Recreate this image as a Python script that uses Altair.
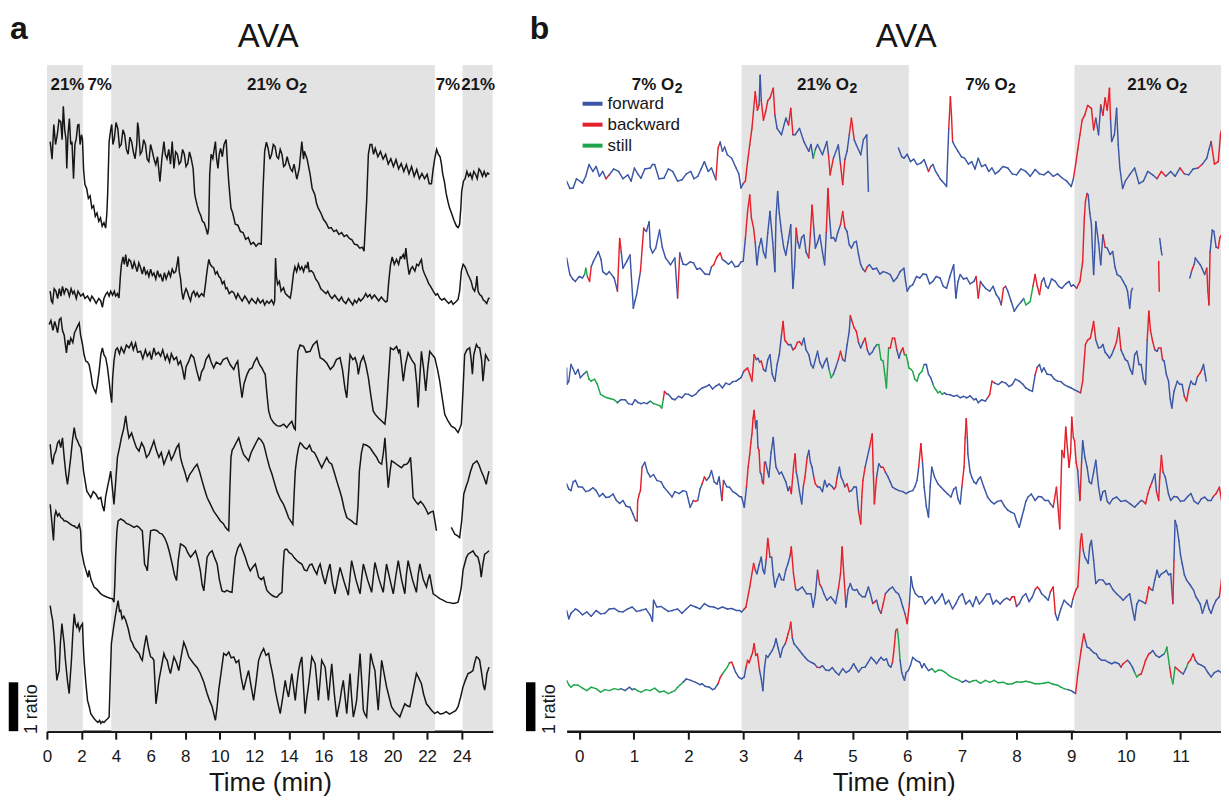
import altair as alt
import pandas as pd

FONT = "Liberation Sans"
INK = "#161616"
BAND = "#e3e3e3"

# ---------------- panel a : AVA ratio traces (time in min, value in ratio units on the stacked axis)
A_TICKS = list(range(0, 25, 2))
A_DOMAIN = [0, 25.8]
A_BANDS = [(0.0, 2.08), (3.72, 22.45), (24.05, 25.8)]
A_LABELS = [("21%", 1.19), ("7%", 3.05), ("21% O₂", 13.3), ("7%", 23.2), ("21%", 24.95)]

A1 = [(0.19,12.06),(0.3,11.7),(0.4,12.41),(0.5,12.0),(0.6,12.2),(0.7,12.5),(0.8,12.47),(0.88,12.1),(0.95,12.78),(1.03,12.3),(1.1,12.12),(1.15,11.51),(1.22,12.2),(1.3,12.53),(1.38,12.0),(1.45,12.06),(1.54,11.3),(1.62,12.0),(1.7,12.12),(1.78,12.4),(1.85,12.41),(1.92,12.0),(2.0,12.2),(2.06,12.1),(2.12,11.5),(2.2,11.18),(2.3,11.1),(2.4,10.9),(2.5,10.95),(2.6,10.7),(2.7,10.75),(2.8,10.53),(2.9,10.6),(3.0,10.43),(3.1,10.5),(3.2,10.33),(3.3,10.4),(3.4,10.29),(3.47,10.6),(3.52,11.04),(3.6,12.06),(3.69,12.3),(3.75,12.41),(3.82,12.0),(3.9,12.12),(4.0,12.45),(4.1,12.33),(4.2,11.95),(4.3,12.0),(4.4,12.3),(4.5,12.2),(4.6,11.9),(4.7,11.8),(4.8,12.15),(4.9,12.06),(5.0,11.85),(5.1,11.71),(5.2,12.0),(5.25,12.45),(5.3,12.33),(5.4,11.8),(5.5,11.86),(5.6,12.1),(5.7,12.0),(5.8,11.7),(5.9,11.65),(6.0,12.0),(6.1,11.86),(6.2,11.7),(6.3,11.59),(6.4,11.75),(6.54,11.24),(6.65,11.7),(6.77,12.06),(6.85,11.8),(6.95,11.71),(7.05,11.9),(7.15,11.6),(7.25,12.06),(7.35,11.51),(7.45,11.85),(7.55,11.8),(7.65,11.6),(7.75,11.65),(7.85,11.9),(7.95,11.8),(8.05,11.55),(8.15,11.61),(8.25,11.85),(8.35,11.71),(8.46,11.51),(8.55,11.0),(8.6,10.9),(8.7,10.75),(8.8,10.63),(8.9,10.55),(9.0,10.43),(9.1,10.4),(9.2,10.29),(9.3,10.16),(9.36,10.3),(9.42,11.39),(9.5,11.8),(9.6,11.71),(9.68,11.9),(9.75,12.06),(9.82,11.7),(9.9,11.51),(9.97,11.8),(10.05,11.92),(10.15,11.75),(10.25,12.0),(10.37,12.1),(10.45,11.6),(10.52,11.24),(10.6,10.9),(10.65,10.7),(10.75,10.6),(10.9,10.37),(11.05,10.35),(11.2,10.22),(11.35,10.2),(11.5,10.06),(11.65,10.1),(11.8,9.96),(11.95,10.0),(12.1,9.92),(12.25,9.98),(12.4,9.96),(12.5,11.04),(12.6,11.86),(12.7,12.05),(12.8,11.92),(12.9,11.7),(13.0,11.8),(13.1,12.0),(13.2,11.96),(13.3,11.75),(13.4,11.71),(13.5,11.9),(13.6,11.8),(13.7,11.55),(13.8,11.59),(13.9,11.75),(14.0,11.61),(14.1,11.5),(14.2,11.45),(14.3,11.6),(14.46,11.29),(14.6,11.51),(14.75,12.06),(14.85,11.7),(14.9,11.86),(15.05,11.71),(15.23,11.39),(15.35,11.1),(15.5,10.98),(15.6,10.8),(15.7,10.7),(15.85,10.6),(16.0,10.47),(16.15,10.4),(16.3,10.29),(16.45,10.3),(16.6,10.22),(16.75,10.25),(16.9,10.16),(17.05,10.2),(17.2,10.12),(17.35,10.15),(17.5,10.08),(17.65,10.05),(17.8,9.96),(17.95,9.95),(18.1,9.88),(18.25,9.9),(18.35,9.82),(18.42,10.3),(18.5,10.84),(18.6,11.8),(18.7,12.0),(18.8,12.0),(18.9,11.8),(19.0,11.92),(19.15,11.75),(19.3,11.86),(19.45,11.7),(19.6,11.8),(19.75,11.6),(19.9,11.71),(20.05,11.55),(20.2,11.69),(20.35,11.5),(20.5,11.61),(20.65,11.45),(20.8,11.59),(20.95,11.4),(21.1,11.55),(21.25,11.35),(21.4,11.49),(21.55,11.3),(21.7,11.41),(21.85,11.3),(22.0,11.39),(22.12,11.2),(22.25,11.2),(22.35,11.5),(22.44,11.71),(22.55,11.9),(22.65,11.8),(22.75,11.75),(22.83,11.6),(22.9,11.4),(23.0,11.24),(23.1,11.0),(23.2,10.84),(23.3,10.7),(23.44,10.57),(23.55,10.45),(23.7,10.33),(23.8,10.3),(23.88,10.37),(23.95,10.7),(24.0,11.04),(24.1,11.25),(24.2,11.3),(24.3,11.45),(24.4,11.35),(24.5,11.41),(24.6,11.3),(24.7,11.45),(24.8,11.39),(24.9,11.3),(25.0,11.5),(25.1,11.45),(25.2,11.35),(25.3,11.45),(25.4,11.35),(25.5,11.42),(25.6,11.39)]

A2 = [(0.19,9.0),(0.26,8.8),(0.33,8.76),(0.42,9.05),(0.52,9.0),(0.62,8.85),(0.72,9.05),(0.81,8.9),(0.9,9.1),(1.0,8.95),(1.1,9.05),(1.19,9.03),(1.3,8.9),(1.4,9.05),(1.5,8.95),(1.58,9.0),(1.7,8.85),(1.8,9.0),(1.96,8.9),(2.1,8.95),(2.2,8.85),(2.35,8.9),(2.5,8.8),(2.6,8.9),(2.73,8.83),(2.85,8.75),(3.0,8.85),(3.12,8.8),(3.21,8.67),(3.3,8.85),(3.4,8.93),(3.5,8.98),(3.6,8.9),(3.69,9.0),(3.8,8.92),(3.9,9.0),(3.98,8.9),(4.08,8.95),(4.17,8.86),(4.25,9.3),(4.31,9.54),(4.4,9.7),(4.48,9.55),(4.56,9.75),(4.65,9.5),(4.75,9.65),(4.85,9.61),(4.95,9.45),(5.05,9.6),(5.13,9.51),(5.22,9.4),(5.32,9.58),(5.42,9.48),(5.52,9.35),(5.62,9.5),(5.72,9.35),(5.81,9.41),(5.9,9.3),(6.0,9.45),(6.1,9.32),(6.19,9.37),(6.3,9.25),(6.4,9.42),(6.5,9.3),(6.58,9.34),(6.7,9.2),(6.8,9.38),(6.9,9.25),(6.96,9.31),(7.05,9.4),(7.15,9.3),(7.25,9.45),(7.35,9.37),(7.45,9.4),(7.53,9.55),(7.6,9.71),(7.66,9.4),(7.73,9.27),(7.8,9.0),(7.88,8.83),(7.95,8.95),(8.05,9.05),(8.12,9.0),(8.2,8.9),(8.31,8.8),(8.4,8.95),(8.5,9.0),(8.6,8.9),(8.69,8.97),(8.8,8.88),(8.95,8.95),(9.08,8.9),(9.16,9.1),(9.23,9.31),(9.3,9.5),(9.37,9.65),(9.45,9.55),(9.55,9.5),(9.65,9.48),(9.75,9.35),(9.85,9.4),(9.95,9.3),(10.04,9.27),(10.15,9.15),(10.25,9.2),(10.35,9.05),(10.42,9.07),(10.55,8.95),(10.7,9.0),(10.81,8.97),(10.95,8.85),(11.05,8.95),(11.19,8.86),(11.3,8.8),(11.45,8.9),(11.58,8.83),(11.7,8.75),(11.85,8.85),(11.96,8.8),(12.1,8.75),(12.2,8.85),(12.35,8.76),(12.5,8.82),(12.6,8.72),(12.73,8.8),(12.85,8.75),(13.0,8.82),(13.12,8.73),(13.18,8.8),(13.23,9.68),(13.28,9.3),(13.35,9.14),(13.45,9.2),(13.55,9.0),(13.69,9.07),(13.8,8.95),(13.95,8.9),(14.08,8.86),(14.15,9.0),(14.27,9.37),(14.35,9.5),(14.45,9.4),(14.55,9.55),(14.65,9.44),(14.75,9.5),(14.85,9.4),(14.95,9.52),(15.04,9.48),(15.1,9.6),(15.18,9.4),(15.3,9.42),(15.42,9.37),(15.55,9.25),(15.71,9.17),(15.85,9.05),(16.0,9.0),(16.15,8.95),(16.25,9.0),(16.38,8.9),(16.5,8.85),(16.65,8.92),(16.77,8.86),(16.9,8.8),(17.05,8.88),(17.15,8.8),(17.3,8.75),(17.45,8.85),(17.54,8.8),(17.7,8.72),(17.8,8.82),(17.92,8.76),(18.05,8.85),(18.15,8.8),(18.31,8.86),(18.45,8.95),(18.55,8.88),(18.69,8.93),(18.8,8.85),(18.95,8.92),(19.08,8.86),(19.2,8.8),(19.35,8.88),(19.46,8.83),(19.6,8.78),(19.69,8.8),(19.78,9.2),(19.88,9.54),(19.98,9.7),(20.1,9.55),(20.23,9.65),(20.35,9.55),(20.45,9.7),(20.52,9.68),(20.62,9.75),(20.7,9.65),(20.77,9.88),(20.85,9.6),(20.96,9.34),(21.05,9.45),(21.15,9.5),(21.29,9.41),(21.4,9.55),(21.5,9.52),(21.6,9.6),(21.67,9.65),(21.75,9.45),(21.85,9.35),(21.96,9.27),(22.1,9.15),(22.2,9.1),(22.35,9.0),(22.5,8.92),(22.6,8.95),(22.73,8.86),(22.85,8.82),(23.0,8.85),(23.12,8.8),(23.25,8.75),(23.4,8.8),(23.5,8.73),(23.65,8.78),(23.79,8.83),(23.88,9.0),(23.98,9.41),(24.08,9.55),(24.17,9.51),(24.25,9.45),(24.35,9.35),(24.46,9.27),(24.55,9.2),(24.65,9.05),(24.75,9.0),(24.82,9.1),(24.88,9.31),(24.95,9.0),(25.04,8.93),(25.15,8.9),(25.25,8.82),(25.33,8.8),(25.45,8.75),(25.55,8.85),(25.62,8.86)]

A3 = [(0.13,8.32),(0.23,8.4),(0.35,8.2),(0.45,8.38),(0.52,8.3),(0.62,8.15),(0.72,8.42),(0.81,8.45),(0.9,8.2),(1.0,8.1),(1.07,7.9),(1.13,7.74),(1.22,8.0),(1.3,7.9),(1.38,8.04),(1.5,7.95),(1.6,8.15),(1.67,8.2),(1.77,8.28),(1.87,8.35),(1.95,8.1),(2.06,7.91),(2.15,7.7),(2.25,7.57),(2.35,7.55),(2.44,7.5),(2.55,7.3),(2.63,7.09),(2.72,7.0),(2.83,6.92),(2.92,7.1),(3.02,7.36),(3.12,7.7),(3.21,7.84),(3.3,7.7),(3.4,7.64),(3.5,7.45),(3.6,7.16),(3.68,6.9),(3.75,6.72),(3.8,7.2),(3.88,7.57),(3.98,7.8),(4.08,7.84),(4.2,7.72),(4.3,7.85),(4.46,7.74),(4.6,7.9),(4.75,7.84),(4.9,7.95),(5.0,7.8),(5.13,7.94),(5.25,7.75),(5.42,7.77),(5.55,7.62),(5.7,7.8),(5.81,7.67),(5.95,7.75),(6.05,7.6),(6.19,7.84),(6.3,7.7),(6.45,7.75),(6.58,7.67),(6.7,7.8),(6.85,7.6),(6.96,7.7),(7.1,7.55),(7.2,7.72),(7.35,7.6),(7.5,7.65),(7.6,7.5),(7.73,7.57),(7.85,7.4),(7.96,7.19),(8.05,7.45),(8.21,7.57),(8.35,7.7),(8.5,7.64),(8.65,7.4),(8.83,7.16),(8.95,7.35),(9.08,7.43),(9.2,7.6),(9.37,7.7),(9.5,7.55),(9.65,7.43),(9.8,7.55),(10.04,7.5),(10.2,7.6),(10.42,7.64),(10.6,7.5),(10.81,7.4),(10.92,7.5),(11.04,7.57),(11.15,7.2),(11.29,6.82),(11.4,7.1),(11.58,7.3),(11.72,7.4),(11.87,7.43),(12.0,7.55),(12.15,7.64),(12.3,7.5),(12.44,7.43),(12.55,7.35),(12.63,7.3),(12.73,6.9),(12.83,6.55),(12.95,6.4),(13.12,6.31),(13.3,6.25),(13.5,6.24),(13.7,6.28),(13.88,6.21),(14.0,6.27),(14.17,6.34),(14.3,6.2),(14.37,6.17),(14.45,7.2),(14.52,7.77),(14.65,7.9),(14.85,7.87),(15.0,7.75),(15.23,7.77),(15.4,7.9),(15.62,7.98),(15.72,7.8),(15.81,7.64),(16.0,7.6),(16.19,7.53),(16.4,7.4),(16.58,7.47),(16.75,7.6),(16.96,7.64),(17.1,7.4),(17.25,7.0),(17.35,6.82),(17.45,7.3),(17.54,7.7),(17.7,7.6),(17.83,7.64),(17.95,7.5),(18.02,7.3),(18.15,7.55),(18.31,7.67),(18.45,7.5),(18.6,7.23),(18.75,6.85),(18.88,6.55),(19.0,6.48),(19.17,6.41),(19.35,6.35),(19.56,6.28),(19.65,6.6),(19.75,7.16),(19.88,7.84),(20.05,7.8),(20.23,7.87),(20.35,7.75),(20.42,7.81),(20.52,7.5),(20.62,7.16),(20.75,7.5),(20.9,7.74),(21.1,7.6),(21.29,7.5),(21.4,7.1),(21.48,6.62),(21.57,7.2),(21.67,7.77),(21.8,7.4),(21.92,6.96),(22.03,7.4),(22.15,7.77),(22.3,7.7),(22.44,7.64),(22.6,7.4),(22.73,7.16),(22.88,6.8),(23.02,6.48),(23.2,6.35),(23.4,6.24),(23.6,6.2),(23.79,6.11),(23.9,6.2),(23.98,6.28),(24.08,7.0),(24.17,7.7),(24.3,7.8),(24.46,7.84),(24.55,7.6),(24.62,7.3),(24.7,7.7),(24.85,7.91),(24.95,7.85),(25.04,7.84),(25.15,7.6),(25.23,7.16),(25.3,7.4),(25.38,7.7),(25.5,7.62),(25.58,7.57)]

A4 = [(0.19,5.87),(0.26,5.6),(0.33,5.46),(0.42,5.65),(0.52,5.73),(0.62,5.9),(0.71,5.94),(0.8,5.8),(0.9,6.0),(1.0,5.6),(1.1,5.26),(1.19,5.05),(1.28,5.3),(1.38,5.6),(1.48,5.95),(1.58,6.21),(1.68,6.0),(1.77,5.94),(1.87,5.85),(1.96,5.8),(2.04,5.6),(2.12,5.32),(2.22,5.1),(2.31,4.91),(2.42,4.85),(2.54,4.78),(2.68,4.9),(2.83,4.85),(2.98,4.75),(3.12,4.78),(3.22,4.6),(3.31,4.5),(3.4,4.8),(3.5,4.98),(3.6,5.15),(3.69,5.32),(3.78,5.0),(3.88,4.64),(3.98,5.1),(4.08,5.6),(4.2,5.8),(4.31,6.0),(4.45,6.2),(4.56,6.45),(4.65,6.2),(4.75,6.0),(4.9,6.1),(5.04,5.94),(5.18,5.8),(5.33,5.73),(5.48,5.9),(5.62,5.8),(5.76,5.6),(5.9,5.66),(6.05,5.8),(6.19,5.94),(6.33,5.75),(6.48,5.6),(6.62,5.7),(6.77,5.46),(6.92,5.6),(7.06,5.73),(7.2,5.55),(7.35,5.66),(7.5,5.8),(7.63,5.87),(7.73,5.6),(7.83,5.46),(7.98,5.3),(8.12,5.12),(8.26,5.25),(8.4,5.32),(8.55,5.4),(8.69,5.46),(8.84,5.3),(8.98,5.12),(9.12,4.95),(9.27,4.78),(9.45,4.65),(9.65,4.5),(9.85,4.4),(10.04,4.3),(10.2,4.25),(10.33,4.17),(10.45,4.12),(10.52,4.1),(10.58,4.9),(10.65,5.6),(10.72,5.75),(10.81,5.8),(10.95,5.9),(11.1,6.0),(11.25,5.8),(11.38,5.66),(11.52,5.6),(11.67,5.53),(11.82,5.7),(11.96,5.8),(12.1,5.9),(12.25,6.0),(12.4,5.95),(12.54,5.87),(12.63,5.75),(12.73,5.6),(12.88,5.4),(13.02,5.26),(13.15,5.1),(13.31,4.91),(13.5,4.75),(13.69,4.64),(13.85,4.5),(13.98,4.37),(14.1,4.3),(14.23,4.23),(14.3,4.8),(14.37,5.32),(14.46,5.6),(14.56,5.8),(14.65,5.9),(14.75,5.87),(14.9,5.8),(15.04,5.77),(15.2,5.85),(15.33,5.73),(15.48,5.7),(15.62,5.6),(15.75,5.5),(15.9,5.39),(16.05,5.5),(16.19,5.6),(16.33,5.5),(16.48,5.46),(16.62,5.3),(16.77,5.12),(16.92,4.95),(17.06,4.78),(17.2,4.55),(17.35,4.37),(17.5,4.33),(17.63,4.3),(17.78,4.25),(17.92,4.23),(18.0,4.6),(18.08,5.32),(18.2,5.7),(18.31,5.87),(18.5,5.85),(18.69,5.8),(18.88,5.7),(19.08,5.6),(19.22,5.5),(19.37,5.46),(19.47,5.7),(19.56,6.0),(19.65,5.5),(19.75,4.98),(19.85,5.3),(19.94,5.53),(20.08,5.5),(20.23,5.46),(20.38,5.42),(20.52,5.39),(20.66,5.45),(20.81,5.46),(20.92,5.5),(21.04,5.6),(21.12,5.2),(21.19,4.78),(21.33,4.7),(21.48,4.64),(21.62,4.7),(21.77,4.64),(21.92,4.55),(22.06,4.44),(22.2,4.48),(22.35,4.5),(22.45,4.3),(22.54,4.1),None,(23.4,4.17),(23.5,4.1),(23.6,4.03),(23.75,4.0),(23.88,3.96),(24.0,4.3),(24.12,4.85),(24.25,5.0),(24.37,5.12),(24.5,5.3),(24.65,5.46),(24.78,5.5),(24.88,5.53),(25.0,5.45),(25.13,5.32),(25.28,5.2),(25.42,5.05),(25.5,5.2),(25.58,5.32)]

A5 = [(0.19,4.64),(0.28,4.3),(0.38,3.9),(0.45,4.4),(0.52,4.5),(0.62,4.4),(0.71,4.45),(0.81,4.37),(0.9,4.35),(1.0,4.3),(1.1,4.3),(1.19,4.28),(1.3,4.25),(1.38,4.23),(1.5,4.2),(1.58,4.2),(1.67,4.17),(1.77,4.15),(1.87,4.23),(1.95,4.1),(2.0,3.69),(2.08,3.55),(2.15,3.42),(2.25,3.3),(2.38,3.15),(2.44,3.29),(2.55,3.1),(2.73,2.95),(2.9,2.9),(3.12,2.81),(3.3,2.77),(3.5,2.74),(3.65,2.72),(3.79,2.71),(3.88,2.64),(3.93,3.0),(3.98,3.6),(4.05,4.1),(4.12,4.3),(4.27,4.34),(4.46,4.3),(4.6,4.25),(4.75,4.23),(4.9,4.2),(5.04,4.17),(5.2,4.2),(5.33,4.17),(5.45,4.12),(5.52,4.1),(5.6,3.7),(5.65,3.42),(5.75,3.35),(5.81,3.28),(5.9,3.7),(6.0,4.1),(6.2,4.12),(6.38,4.1),(6.52,4.05),(6.67,4.03),(6.82,3.95),(6.96,3.83),(7.1,3.65),(7.25,3.42),(7.38,3.2),(7.5,3.08),(7.6,3.5),(7.73,3.83),(7.88,3.8),(8.02,3.76),(8.15,3.65),(8.31,3.56),(8.45,3.62),(8.6,3.69),(8.75,3.5),(8.88,3.28),(8.98,3.0),(9.08,2.87),(9.17,3.2),(9.27,3.56),(9.42,3.65),(9.56,3.69),(9.7,3.55),(9.85,3.42),(9.98,3.1),(10.13,2.87),(10.28,2.85),(10.42,2.88),(10.58,2.85),(10.71,2.84),(10.8,3.2),(10.9,3.56),(11.05,3.75),(11.19,3.83),(11.33,3.7),(11.48,3.56),(11.62,3.4),(11.77,3.28),(11.9,3.35),(12.06,3.42),(12.15,3.3),(12.25,3.15),(12.4,3.1),(12.54,3.15),(12.63,3.0),(12.73,2.88),(12.88,2.82),(13.02,2.78),(13.17,2.75),(13.31,2.74),(13.45,2.8),(13.6,2.84),(13.66,3.3),(13.73,3.69),(13.8,3.72),(13.88,3.72),(14.02,3.65),(14.17,3.62),(14.3,3.55),(14.46,3.49),(14.6,3.45),(14.75,3.42),(14.9,3.3),(15.04,3.28),(15.2,3.4),(15.33,3.42),(15.48,3.3),(15.62,3.21),(15.72,3.35),(15.81,3.42),(15.95,3.2),(16.1,3.01),(16.25,3.25),(16.38,3.42),(16.52,3.05),(16.67,2.81),(16.82,3.1),(16.96,3.35),(17.2,3.05),(17.44,2.78),(17.55,3.2),(17.63,3.49),(17.88,3.1),(18.12,2.81),(18.22,3.15),(18.31,3.42),(18.55,3.1),(18.79,2.84),(18.9,3.2),(18.98,3.45),(19.22,3.1),(19.46,2.84),(19.56,3.15),(19.65,3.42),(19.85,3.1),(20.04,2.81),(20.2,3.2),(20.33,3.49),(20.52,3.1),(20.71,2.81),(20.8,3.2),(20.9,3.49),(21.15,3.1),(21.38,2.84),(21.48,3.2),(21.58,3.42),(21.78,3.1),(21.96,2.95),(22.05,3.1),(22.15,3.21),(22.25,3.0),(22.35,2.81),(22.55,2.76),(22.73,2.71),(22.92,2.68),(23.12,2.64),(23.3,2.63),(23.5,2.61),(23.65,2.62),(23.79,2.64),(23.9,2.8),(23.98,2.95),(24.08,3.3),(24.17,3.42),(24.27,3.55),(24.37,3.62),(24.5,3.65),(24.65,3.69),(24.8,3.6),(24.94,3.56),(25.05,3.4),(25.13,3.15),(25.22,3.4),(25.33,3.62),(25.45,3.65),(25.58,3.69)]

A6 = [(0.19,2.57),(0.26,2.4),(0.33,2.27),(0.4,2.0),(0.46,1.72),(0.52,1.3),(0.58,1.04),(0.64,1.15),(0.71,1.24),(0.78,1.8),(0.87,2.2),(0.93,2.0),(1.0,1.79),(1.06,1.5),(1.13,1.24),(1.2,1.0),(1.29,0.77),(1.35,1.1),(1.42,1.45),(1.5,2.0),(1.58,2.4),(1.65,2.2),(1.73,2.13),(1.8,2.2),(1.88,2.06),(1.97,2.15),(2.06,2.2),(2.1,1.8),(2.15,1.45),(2.25,1.0),(2.35,0.63),(2.45,0.5),(2.54,0.36),(2.65,0.3),(2.75,0.25),(2.83,0.22),(2.95,0.18),(3.05,0.22),(3.12,0.16),(3.22,0.2),(3.3,0.18),(3.4,0.22),(3.5,0.25),(3.6,0.29),(3.66,1.0),(3.73,1.79),(3.85,2.1),(3.98,2.4),(4.05,2.55),(4.12,2.67),(4.2,2.45),(4.27,2.47),(4.35,2.3),(4.45,2.35),(4.56,2.27),(4.7,2.1),(4.85,1.86),(4.95,1.8),(5.04,1.72),(5.18,1.65),(5.33,1.59),(5.43,1.5),(5.52,1.45),(5.62,1.7),(5.75,1.96),(5.88,1.7),(6.0,1.52),(6.1,1.5),(6.19,1.45),(6.25,1.0),(6.31,0.56),(6.4,0.8),(6.48,1.04),(6.62,1.3),(6.77,1.59),(6.86,1.5),(6.96,1.45),(7.05,1.3),(7.15,1.18),(7.25,1.35),(7.35,1.52),(7.5,1.4),(7.63,1.24),(7.78,1.55),(7.92,1.82),(8.05,1.7),(8.21,1.52),(8.35,1.45),(8.5,1.38),(8.7,1.3),(8.88,1.18),(9.08,1.0),(9.27,0.77),(9.42,0.62),(9.56,0.5),(9.66,0.35),(9.75,0.22),(9.85,0.5),(9.94,0.84),(10.08,1.2),(10.23,1.59),(10.38,1.55),(10.52,1.62),(10.66,1.5),(10.81,1.52),(10.95,1.4),(11.1,1.45),(11.24,1.1),(11.38,0.84),(11.52,1.05),(11.67,1.24),(11.8,0.95),(11.96,0.63),(12.1,1.0),(12.25,1.45),(12.4,1.6),(12.54,1.69),(12.68,1.55),(12.83,1.59),(12.92,1.4),(13.02,1.24),(13.12,1.05),(13.21,0.84),(13.35,0.6),(13.5,0.36),(13.65,0.7),(13.79,1.04),(13.88,0.85),(13.98,0.7),(14.08,0.95),(14.17,1.18),(14.27,0.9),(14.37,0.63),(14.46,0.95),(14.56,1.24),(14.65,1.4),(14.75,1.52),(14.85,0.9),(14.94,0.36),(15.03,0.65),(15.13,0.91),(15.23,1.2),(15.33,1.52),(15.42,1.45),(15.52,1.38),(15.62,1.0),(15.71,0.63),(15.8,1.0),(15.9,1.45),(16.0,1.38),(16.1,1.31),(16.2,0.95),(16.29,0.63),(16.38,1.0),(16.48,1.38),(16.62,0.8),(16.77,0.29),(16.86,0.45),(16.96,0.63),(17.05,0.85),(17.15,1.04),(17.25,0.7),(17.35,0.36),(17.45,0.8),(17.54,1.18),(17.63,0.7),(17.73,0.29),(17.83,0.45),(17.92,0.63),(18.02,1.1),(18.12,1.59),(18.22,1.0),(18.31,0.43),(18.4,0.35),(18.5,0.29),(18.62,0.95),(18.73,1.59),(18.85,1.4),(18.98,1.24),(19.08,0.8),(19.17,0.43),(19.27,0.95),(19.37,1.45),(19.5,1.2),(19.65,0.91),(19.8,0.7),(19.94,0.5),(20.08,0.42),(20.23,0.36),(20.32,0.33),(20.42,0.29),(20.55,0.42),(20.71,0.56),(20.85,0.52),(21.0,0.5),(21.2,0.85),(21.38,1.18),(21.5,1.1),(21.67,0.97),(21.8,0.75),(21.96,0.56),(22.1,0.5),(22.25,0.43),(22.44,0.36),(22.6,0.4),(22.75,0.35),(22.92,0.36),(23.1,0.4),(23.3,0.35),(23.5,0.39),(23.65,0.42),(23.79,0.5),(23.94,0.7),(24.08,0.91),(24.22,1.05),(24.37,1.18),(24.5,1.2),(24.65,1.24),(24.75,1.4),(24.85,1.52),(24.95,1.5),(25.04,1.45),(25.15,1.2),(25.25,0.95),(25.33,0.84),(25.4,1.0),(25.46,1.18),(25.58,1.31)]

# ---------------- panel b : AVA traces coloured by locomotion state (F forward, R backward, G still)
B_TICKS = list(range(0, 12))
B_DOMAIN = [-0.23, 11.74]
B_BANDS = [(2.97, 6.03), (9.06, 11.9)]
B_LABELS = [("7% O₂", 1.42), ("21% O₂", 4.53), ("7% O₂", 7.52), ("21% O₂", 10.57)]
STATE_CODES = {"F": "forward", "R": "backward", "G": "still"}
STATES = ["forward", "backward", "still"]
STATE_COLORS = ["#3a56a6", "#e4202a", "#1fa64a"]

B1 = [(-0.23,11.25,'F'),(-0.17,11.1,'F'),(-0.11,11.11,'F'),(-0.05,11.3,'F'),(0.06,11.21,'F'),(0.12,11.35,'F'),(0.18,11.59,'F'),(0.25,11.45,'F'),(0.31,11.55,'F'),(0.37,11.35,'F'),(0.43,11.45,'F'),(0.49,11.3,'R'),(0.55,11.38,'F'),(0.63,11.5,'F'),(0.72,11.45,'F'),(0.8,11.3,'F'),(0.89,11.38,'F'),(0.95,11.25,'F'),(1.01,11.52,'F'),(1.07,11.4,'F'),(1.13,11.31,'F'),(1.2,11.5,'F'),(1.3,11.52,'F'),(1.34,11.59,'F'),(1.38,11.59,'F'),(1.46,11.3,'F'),(1.55,11.31,'F'),(1.63,11.5,'F'),(1.71,11.45,'F'),(1.8,11.25,'F'),(1.88,11.28,'F'),(1.96,11.4,'F'),(2.04,11.45,'F'),(2.1,11.3,'F'),(2.17,11.35,'F'),(2.23,11.5,'F'),(2.29,11.65,'F'),(2.36,11.45,'F'),(2.42,11.52,'F'),(2.5,11.28,'R'),(2.54,11.93,'R'),(2.58,12.05,'F'),(2.62,11.86,'F'),(2.66,11.95,'F'),(2.71,11.79,'F'),(2.79,11.72,'F'),(2.87,11.52,'F'),(2.92,11.4,'F'),(2.96,11.11,'F'),(3.0,11.2,'R'),(3.04,11.25,'R'),(3.08,11.65,'R'),(3.12,12.0,'R'),(3.16,12.33,'R'),(3.22,13.08,'R'),(3.26,12.7,'R'),(3.29,12.81,'F'),(3.31,13.42,'F'),(3.33,12.9,'R'),(3.37,12.5,'R'),(3.41,12.67,'R'),(3.45,12.9,'R'),(3.49,12.95,'R'),(3.55,13.15,'R'),(3.58,12.6,'F'),(3.62,12.33,'F'),(3.7,12.2,'F'),(3.78,12.54,'F'),(3.83,12.4,'R'),(3.87,12.74,'R'),(3.91,12.2,'F'),(3.95,12.2,'F'),(4.03,12.33,'F'),(4.11,12.06,'F'),(4.2,11.86,'F'),(4.24,12.0,'F'),(4.28,11.72,'G'),(4.32,11.9,'F'),(4.36,12.0,'F'),(4.45,11.79,'F'),(4.53,12.06,'F'),(4.56,11.8,'R'),(4.59,11.38,'R'),(4.65,11.72,'F'),(4.74,11.99,'F'),(4.78,11.6,'R'),(4.82,11.18,'R'),(4.86,11.7,'F'),(4.9,11.86,'F'),(4.94,12.2,'R'),(4.98,12.54,'R'),(5.03,12.1,'F'),(5.07,11.99,'F'),(5.15,11.79,'F'),(5.2,12.1,'F'),(5.26,12.2,'F'),(5.29,11.04,'F'),None,(5.84,11.93,'F'),(5.9,11.75,'F'),(5.94,11.72,'F'),(6.0,11.8,'F'),(6.06,11.65,'F'),(6.12,11.7,'F'),(6.18,11.59,'F'),(6.25,11.62,'F'),(6.31,11.69,'F'),(6.39,11.45,'R'),(6.43,11.55,'F'),(6.47,11.59,'F'),(6.52,11.45,'F'),(6.56,11.38,'F'),(6.6,11.3,'F'),(6.64,11.25,'F'),(6.68,11.2,'F'),(6.72,11.14,'F'),(6.76,12.33,'R'),(6.79,12.98,'R'),(6.81,12.6,'R'),(6.83,12.06,'F'),(6.88,11.95,'F'),(6.93,11.86,'F'),(6.99,11.75,'F'),(7.05,11.72,'F'),(7.12,11.6,'F'),(7.18,11.65,'F'),(7.24,11.5,'F'),(7.3,11.72,'F'),(7.36,11.55,'F'),(7.43,11.59,'F'),(7.49,11.45,'F'),(7.55,11.52,'F'),(7.61,11.4,'F'),(7.67,11.45,'F'),(7.75,11.55,'F'),(7.84,11.52,'F'),(7.92,11.4,'F'),(8.0,11.38,'F'),(8.08,11.5,'F'),(8.17,11.45,'F'),(8.25,11.35,'F'),(8.34,11.49,'F'),(8.42,11.4,'F'),(8.5,11.38,'F'),(8.58,11.45,'F'),(8.67,11.35,'F'),(8.75,11.4,'F'),(8.84,11.31,'F'),(8.92,11.25,'F'),(9.0,11.14,'F'),(9.04,11.3,'R'),(9.08,11.59,'R'),(9.12,11.9,'R'),(9.16,12.2,'R'),(9.2,12.5,'R'),(9.25,12.61,'R'),(9.3,12.8,'R'),(9.37,12.74,'R'),(9.41,12.3,'R'),(9.45,12.54,'F'),(9.5,12.2,'F'),(9.54,12.81,'R'),(9.58,12.6,'R'),(9.62,12.95,'R'),(9.66,12.7,'R'),(9.7,13.15,'R'),(9.72,12.5,'F'),(9.74,12.06,'F'),(9.79,12.2,'F'),(9.83,12.74,'F'),(9.86,12.0,'F'),(9.89,11.52,'F'),(9.94,11.1,'F'),(9.99,11.25,'F'),(10.08,11.4,'F'),(10.16,11.52,'F'),(10.24,11.2,'F'),(10.32,11.25,'F'),(10.4,11.45,'F'),(10.49,11.38,'F'),(10.57,11.3,'R'),(10.65,11.45,'R'),(10.73,11.35,'F'),(10.82,11.45,'F'),(10.9,11.35,'F'),(10.99,11.52,'R'),(11.07,11.4,'F'),(11.15,11.38,'F'),(11.23,11.5,'F'),(11.32,11.52,'R'),(11.4,11.6,'F'),(11.48,11.72,'F'),(11.52,11.9,'F'),(11.56,12.06,'R'),(11.62,11.6,'R'),(11.69,11.65,'R'),(11.73,12.2,'R'),(11.77,12.4,'R'),(11.85,12.74,'R')]

B2 = [(-0.23,9.68,'F'),(-0.17,9.34,'F'),(-0.12,9.25,'F'),(-0.07,9.2,'F'),(0.0,9.3,'F'),(0.06,9.27,'F'),(0.1,9.35,'G'),(0.12,9.47,'G'),(0.15,9.3,'R'),(0.19,9.2,'R'),(0.22,9.5,'F'),(0.26,9.61,'F'),(0.3,9.7,'F'),(0.35,9.81,'F'),(0.4,9.65,'F'),(0.43,9.4,'F'),(0.5,9.34,'F'),(0.55,9.4,'F'),(0.64,9.27,'F'),(0.7,9.0,'R'),(0.74,10.08,'R'),(0.77,9.8,'F'),(0.8,9.47,'F'),(0.87,9.61,'F'),(0.93,9.74,'F'),(0.99,8.65,'F'),(1.02,8.8,'F'),(1.05,8.93,'F'),(1.12,9.4,'R'),(1.18,10.29,'R'),(1.2,10.25,'F'),(1.23,10.22,'F'),(1.28,10.42,'F'),(1.3,9.9,'F'),(1.34,9.78,'F'),(1.4,9.88,'F'),(1.47,10.25,'F'),(1.52,9.9,'F'),(1.58,9.68,'F'),(1.67,9.54,'F'),(1.75,9.68,'F'),(1.8,8.86,'R'),(1.84,9.78,'F'),(1.9,9.55,'F'),(1.96,9.54,'F'),(2.03,9.6,'F'),(2.09,9.58,'F'),(2.15,9.45,'F'),(2.21,9.47,'F'),(2.3,9.35,'F'),(2.38,9.34,'F'),(2.42,9.5,'R'),(2.46,9.54,'R'),(2.52,9.7,'R'),(2.58,9.78,'R'),(2.62,9.65,'F'),(2.67,9.61,'F'),(2.73,9.55,'F'),(2.79,9.61,'F'),(2.85,9.5,'F'),(2.91,9.51,'F'),(2.96,9.6,'F'),(3.0,9.61,'F'),(3.04,10.08,'R'),(3.08,10.63,'R'),(3.12,10.97,'R'),(3.15,10.5,'R'),(3.19,10.29,'R'),(3.22,10.0,'F'),(3.25,9.54,'F'),(3.29,9.9,'F'),(3.33,10.08,'F'),(3.37,9.8,'F'),(3.41,9.68,'F'),(3.45,10.2,'F'),(3.49,10.63,'F'),(3.54,10.0,'F'),(3.58,9.4,'F'),(3.6,10.5,'F'),(3.63,11.04,'F'),(3.66,10.6,'F'),(3.7,10.22,'F'),(3.74,9.9,'F'),(3.78,9.74,'F'),(3.82,10.0,'F'),(3.87,10.36,'F'),(3.89,9.6,'F'),(3.91,9.06,'F'),(3.94,9.5,'F'),(3.97,10.29,'R'),(4.0,10.0,'F'),(4.03,9.88,'F'),(4.07,10.1,'F'),(4.11,10.15,'F'),(4.15,9.8,'F'),(4.2,9.68,'R'),(4.23,10.2,'R'),(4.26,10.76,'R'),(4.29,10.3,'F'),(4.32,9.88,'F'),(4.36,10.0,'F'),(4.4,10.15,'F'),(4.45,9.8,'F'),(4.49,9.54,'F'),(4.52,10.2,'R'),(4.55,11.1,'R'),(4.58,10.5,'F'),(4.61,10.08,'F'),(4.65,10.1,'F'),(4.69,10.02,'F'),(4.73,10.2,'F'),(4.78,10.36,'R'),(4.82,10.63,'R'),(4.86,10.3,'F'),(4.9,10.22,'F'),(4.94,9.95,'F'),(4.98,9.88,'F'),(5.03,10.0,'F'),(5.07,10.02,'F'),(5.11,9.75,'F'),(5.15,9.54,'F'),(5.19,9.45,'F'),(5.23,9.4,'R'),(5.27,9.5,'F'),(5.31,9.54,'F'),(5.37,9.45,'F'),(5.44,9.47,'F'),(5.5,9.35,'F'),(5.56,9.4,'F'),(5.62,9.38,'F'),(5.69,9.34,'F'),(5.75,9.2,'F'),(5.81,9.27,'F'),(5.87,9.4,'F'),(5.94,9.47,'F'),(5.97,9.2,'F'),(6.0,9.0,'F'),(6.05,9.1,'F'),(6.1,9.13,'F'),(6.17,9.3,'F'),(6.23,9.27,'F'),(6.29,9.35,'F'),(6.35,9.34,'F'),(6.41,9.15,'F'),(6.47,9.2,'F'),(6.53,9.3,'F'),(6.6,9.27,'F'),(6.66,9.1,'F'),(6.72,9.06,'F'),(6.78,9.3,'F'),(6.85,9.54,'F'),(6.89,8.86,'F'),(6.93,9.2,'F'),(6.97,9.34,'F'),(7.03,9.25,'F'),(7.09,9.27,'F'),(7.15,9.15,'F'),(7.22,9.2,'F'),(7.26,9.3,'R'),(7.3,8.86,'R'),(7.34,9.2,'F'),(7.38,9.13,'F'),(7.44,9.05,'F'),(7.51,9.0,'F'),(7.57,9.1,'F'),(7.63,8.93,'F'),(7.68,8.85,'F'),(7.72,8.72,'R'),(7.76,9.06,'R'),(7.8,9.1,'F'),(7.84,9.0,'F'),(7.9,8.8,'F'),(7.96,8.59,'F'),(8.02,8.7,'F'),(8.09,8.79,'F'),(8.13,8.85,'G'),(8.17,8.72,'G'),(8.21,8.75,'G'),(8.25,8.79,'G'),(8.3,9.1,'R'),(8.34,9.34,'R'),(8.38,9.1,'R'),(8.42,8.93,'R'),(8.46,9.2,'F'),(8.5,9.27,'F'),(8.54,9.1,'F'),(8.58,9.06,'F'),(8.64,9.25,'F'),(8.71,9.2,'F'),(8.77,9.1,'F'),(8.83,9.06,'F'),(8.9,9.15,'F'),(8.96,9.2,'F'),(9.0,9.1,'F'),(9.04,9.13,'F'),(9.1,9.06,'R'),(9.16,9.2,'R'),(9.21,9.61,'R'),(9.24,10.5,'R'),(9.26,10.83,'R'),(9.29,11.0,'F'),(9.31,10.97,'F'),(9.34,10.6,'F'),(9.37,10.36,'F'),(9.39,9.8,'F'),(9.41,9.34,'F'),(9.43,9.8,'F'),(9.45,10.42,'F'),(9.5,10.0,'F'),(9.54,9.54,'F'),(9.58,10.15,'R'),(9.62,9.9,'F'),(9.66,9.88,'F'),(9.71,9.75,'F'),(9.76,9.81,'F'),(9.8,9.5,'F'),(9.84,9.34,'F'),(9.9,9.3,'F'),(9.95,9.2,'F'),(10.0,9.1,'F'),(10.03,9.0,'F'),(10.07,8.65,'F'),(10.1,9.0,'F'),(10.12,9.06,'F'),None,(10.6,9.61,'R'),(10.61,9.0,'R'),None,(10.62,10.08,'F'),(10.64,9.88,'F'),(10.66,9.74,'F'),None,(11.17,9.27,'F'),(11.2,9.4,'R'),(11.22,9.47,'R'),(11.25,9.55,'F'),(11.27,9.68,'F'),(11.32,9.6,'F'),(11.36,9.54,'F'),(11.4,9.45,'F'),(11.44,9.34,'F'),(11.48,9.47,'R'),(11.5,9.0,'R'),(11.52,8.72,'R'),(11.54,9.8,'F'),(11.56,10.02,'F'),(11.58,10.25,'F'),(11.61,10.22,'F'),(11.65,9.9,'F'),(11.69,9.88,'R'),(11.72,10.1,'R'),(11.75,10.15,'R'),(11.78,9.88,'F')]

B3 = [(-0.23,7.43,'F'),(-0.22,7.1,'F'),(-0.19,7.16,'F'),(-0.15,7.5,'F'),(-0.12,7.43,'F'),(-0.07,7.3,'F'),(-0.02,7.4,'F'),(0.02,7.23,'F'),(0.08,7.3,'F'),(0.14,7.36,'G'),(0.18,7.2,'G'),(0.22,7.16,'G'),(0.28,7.2,'G'),(0.33,7.1,'G'),(0.39,6.89,'G'),(0.45,6.85,'G'),(0.51,6.82,'G'),(0.58,6.8,'G'),(0.64,6.78,'G'),(0.7,6.72,'F'),(0.76,6.78,'F'),(0.84,6.78,'F'),(0.9,6.7,'F'),(0.97,6.68,'F'),(1.02,6.78,'F'),(1.08,6.72,'F'),(1.13,6.7,'F'),(1.18,6.72,'F'),(1.24,6.7,'F'),(1.3,6.75,'G'),(1.36,6.7,'G'),(1.42,6.68,'G'),(1.47,6.66,'G'),(1.51,6.61,'G'),(1.54,6.8,'R'),(1.56,6.95,'R'),(1.6,6.9,'F'),(1.63,6.89,'F'),(1.7,6.8,'F'),(1.75,6.78,'F'),(1.82,6.85,'F'),(1.88,6.82,'F'),(1.94,6.9,'F'),(2.0,6.89,'F'),(2.06,6.85,'F'),(2.13,6.89,'F'),(2.19,6.97,'F'),(2.25,7.02,'F'),(2.32,7.05,'F'),(2.38,7.09,'F'),(2.44,7.0,'F'),(2.5,7.06,'F'),(2.56,7.1,'F'),(2.62,7.02,'F'),(2.68,7.12,'F'),(2.75,7.09,'F'),(2.81,7.15,'F'),(2.87,7.16,'F'),(2.92,7.2,'F'),(2.96,7.23,'F'),(3.01,7.36,'R'),(3.05,7.4,'R'),(3.08,7.43,'R'),(3.12,7.3,'R'),(3.16,7.16,'R'),(3.2,7.7,'R'),(3.24,7.6,'F'),(3.27,7.63,'F'),(3.3,7.55,'R'),(3.33,7.57,'R'),(3.37,7.4,'F'),(3.41,7.36,'F'),(3.45,7.6,'F'),(3.49,7.7,'F'),(3.53,7.3,'F'),(3.58,7.16,'F'),(3.62,7.5,'F'),(3.66,7.7,'F'),(3.7,8.1,'R'),(3.73,8.38,'R'),(3.76,8.0,'R'),(3.78,7.97,'R'),(3.83,7.9,'F'),(3.87,7.91,'F'),(3.91,7.8,'R'),(3.95,7.84,'R'),(3.99,7.95,'R'),(4.03,7.97,'R'),(4.07,7.9,'F'),(4.11,8.04,'F'),(4.15,7.8,'F'),(4.2,7.7,'F'),(4.24,7.5,'F'),(4.28,7.43,'F'),(4.32,7.6,'F'),(4.36,7.77,'F'),(4.4,7.55,'F'),(4.45,7.43,'F'),(4.49,7.55,'F'),(4.53,7.63,'F'),(4.57,7.4,'G'),(4.61,7.23,'G'),(4.65,7.3,'F'),(4.69,7.43,'F'),(4.74,7.6,'R'),(4.78,7.77,'R'),(4.82,7.6,'F'),(4.86,7.57,'F'),(4.9,7.9,'F'),(4.94,8.18,'F'),(4.96,8.5,'R'),(4.98,8.42,'R'),(5.03,8.25,'R'),(5.07,8.18,'R'),(5.11,7.95,'F'),(5.15,7.84,'F'),(5.19,7.95,'R'),(5.23,8.04,'R'),(5.27,7.8,'F'),(5.31,7.7,'F'),(5.36,7.75,'F'),(5.4,7.84,'F'),(5.44,7.9,'G'),(5.48,7.91,'G'),(5.52,7.6,'G'),(5.56,7.57,'G'),(5.59,7.3,'G'),(5.62,7.02,'G'),(5.66,7.84,'R'),(5.69,7.84,'R'),(5.73,8.04,'R'),(5.77,8.04,'R'),(5.81,7.8,'F'),(5.85,7.63,'F'),(5.88,7.75,'R'),(5.92,7.84,'R'),(5.95,7.7,'G'),(5.98,7.7,'G'),(6.01,7.55,'G'),(6.03,7.43,'G'),(6.07,7.4,'G'),(6.1,7.36,'G'),(6.14,7.2,'G'),(6.18,7.16,'G'),(6.22,7.3,'G'),(6.27,7.36,'G'),(6.31,7.5,'F'),(6.35,7.5,'F'),(6.39,7.3,'F'),(6.43,7.23,'F'),(6.47,7.1,'G'),(6.5,7.02,'G'),(6.53,6.98,'G'),(6.56,6.92,'G'),(6.6,6.95,'G'),(6.64,6.89,'G'),(6.68,6.92,'F'),(6.72,6.89,'F'),(6.79,6.88,'F'),(6.85,6.85,'F'),(6.91,6.87,'F'),(6.97,6.82,'F'),(7.03,6.85,'F'),(7.09,6.82,'F'),(7.15,6.86,'F'),(7.22,6.78,'F'),(7.26,6.8,'F'),(7.3,6.72,'F'),(7.36,6.78,'F'),(7.43,6.75,'F'),(7.47,6.82,'R'),(7.51,6.89,'R'),(7.55,7.16,'R'),(7.6,7.12,'F'),(7.67,7.09,'F'),(7.73,7.15,'F'),(7.8,7.12,'F'),(7.86,7.05,'F'),(7.92,7.09,'F'),(7.98,7.2,'F'),(8.05,7.16,'F'),(8.11,7.1,'F'),(8.17,7.02,'F'),(8.23,6.98,'F'),(8.29,6.95,'F'),(8.34,7.29,'R'),(8.38,7.45,'F'),(8.42,7.5,'F'),(8.46,7.35,'F'),(8.5,7.43,'F'),(8.56,7.3,'F'),(8.63,7.29,'F'),(8.69,7.2,'F'),(8.75,7.16,'F'),(8.81,7.15,'F'),(8.87,7.09,'F'),(8.94,7.05,'F'),(9.0,7.02,'F'),(9.06,6.98,'F'),(9.12,6.95,'F'),(9.17,6.92,'R'),(9.21,7.16,'R'),(9.26,7.91,'R'),(9.3,8.0,'R'),(9.35,8.04,'R'),(9.38,8.2,'R'),(9.41,8.38,'R'),(9.45,8.0,'F'),(9.5,7.84,'F'),(9.54,7.85,'F'),(9.58,7.91,'F'),(9.62,7.75,'F'),(9.66,7.7,'F'),(9.7,7.63,'F'),(9.74,7.7,'F'),(9.79,7.84,'R'),(9.83,7.97,'R'),(9.87,8.25,'R'),(9.91,7.8,'F'),(9.95,7.7,'F'),(9.99,7.6,'F'),(10.03,7.57,'F'),(10.08,7.4,'F'),(10.12,7.3,'F'),(10.16,7.7,'F'),(10.2,7.77,'F'),(10.24,7.5,'F'),(10.28,7.5,'F'),(10.32,7.2,'F'),(10.36,7.09,'F'),(10.39,8.0,'R'),(10.42,8.59,'R'),(10.45,8.2,'R'),(10.49,7.97,'R'),(10.53,7.8,'F'),(10.57,7.77,'F'),(10.6,7.84,'R'),(10.64,7.84,'R'),(10.67,7.6,'F'),(10.7,7.57,'F'),(10.74,7.3,'F'),(10.78,7.16,'F'),(10.81,6.8,'F'),(10.84,6.61,'F'),(10.88,6.95,'F'),(10.94,7.16,'F'),(10.98,7.1,'F'),(11.03,7.09,'F'),(11.07,6.85,'R'),(11.11,6.75,'R'),(11.15,7.0,'F'),(11.19,7.16,'F'),(11.23,7.1,'F'),(11.27,7.09,'F'),(11.31,7.25,'R'),(11.36,7.33,'R'),(11.39,7.4,'F'),(11.42,7.5,'F'),(11.45,7.3,'F'),(11.47,7.16,'F')]

B4 = [(-0.23,5.06,'F'),(-0.19,4.95,'F'),(-0.15,4.92,'F'),(-0.11,5.1,'F'),(-0.07,5.13,'F'),(-0.02,5.0,'F'),(0.06,4.99,'F'),(0.12,4.9,'F'),(0.18,4.92,'F'),(0.25,4.98,'F'),(0.31,4.92,'F'),(0.37,4.8,'F'),(0.43,4.86,'F'),(0.49,4.78,'F'),(0.55,4.79,'F'),(0.62,4.85,'F'),(0.68,4.72,'F'),(0.74,4.66,'F'),(0.8,4.72,'F'),(0.86,4.6,'F'),(0.93,4.58,'F'),(0.98,4.45,'F'),(1.03,4.31,'F'),(1.06,4.3,'R'),(1.07,4.72,'R'),(1.1,4.85,'R'),(1.12,4.92,'R'),(1.15,5.4,'F'),(1.2,5.5,'F'),(1.25,5.3,'F'),(1.3,5.2,'F'),(1.36,5.25,'F'),(1.42,5.13,'F'),(1.5,5.1,'F'),(1.55,4.99,'F'),(1.62,4.9,'F'),(1.7,4.79,'F'),(1.75,4.9,'F'),(1.83,4.86,'F'),(1.9,4.92,'F'),(1.96,4.9,'F'),(2.03,4.58,'F'),(2.09,4.72,'R'),(2.13,4.7,'R'),(2.17,4.72,'F'),(2.21,4.95,'F'),(2.25,5.06,'R'),(2.29,5.2,'R'),(2.33,5.13,'F'),(2.38,5.2,'F'),(2.42,5.33,'F'),(2.47,5.1,'F'),(2.52,5.05,'F'),(2.56,5.2,'F'),(2.61,4.72,'R'),(2.64,5.13,'F'),(2.7,5.0,'F'),(2.75,4.99,'F'),(2.81,4.9,'F'),(2.87,4.86,'F'),(2.93,4.8,'F'),(2.97,4.79,'F'),(3.02,4.58,'F'),(3.06,4.99,'R'),(3.09,5.4,'R'),(3.12,5.67,'R'),(3.14,5.9,'R'),(3.16,6.08,'R'),(3.18,6.4,'R'),(3.2,6.56,'R'),(3.23,6.2,'F'),(3.25,6.35,'F'),(3.27,5.8,'R'),(3.29,5.74,'R'),(3.31,5.3,'F'),(3.33,5.26,'F'),(3.35,5.1,'R'),(3.37,5.06,'R'),(3.39,5.5,'F'),(3.41,5.5,'F'),(3.45,5.3,'F'),(3.47,5.2,'F'),(3.51,5.7,'F'),(3.55,6.01,'F'),(3.58,5.6,'F'),(3.6,5.4,'F'),(3.66,5.26,'F'),(3.7,5.3,'F'),(3.74,5.2,'F'),(3.78,5.1,'F'),(3.82,4.92,'F'),(3.85,5.0,'R'),(3.88,4.86,'R'),(3.92,5.4,'R'),(3.95,5.67,'R'),(3.97,5.3,'F'),(3.99,5.2,'F'),(4.03,4.9,'F'),(4.07,4.65,'F'),(4.1,5.0,'R'),(4.13,5.2,'R'),(4.17,5.6,'F'),(4.2,5.74,'F'),(4.23,5.5,'F'),(4.26,5.4,'F'),(4.29,5.2,'R'),(4.32,5.06,'R'),(4.36,5.0,'F'),(4.4,4.99,'F'),(4.45,4.9,'F'),(4.49,5.13,'F'),(4.53,5.0,'F'),(4.57,5.06,'F'),(4.63,5.0,'F'),(4.66,4.95,'R'),(4.69,4.99,'R'),(4.72,5.2,'F'),(4.76,5.4,'F'),(4.79,5.2,'F'),(4.82,5.13,'F'),(4.86,5.0,'R'),(4.9,5.06,'R'),(4.94,4.9,'F'),(4.98,4.92,'F'),(5.03,5.0,'F'),(5.07,4.99,'F'),(5.11,4.5,'R'),(5.15,4.24,'R'),(5.17,4.8,'R'),(5.19,5.13,'R'),(5.23,5.4,'F'),(5.27,5.6,'F'),(5.31,5.8,'R'),(5.36,6.08,'R'),(5.38,5.3,'R'),(5.4,4.65,'R'),(5.44,5.2,'F'),(5.48,5.47,'F'),(5.52,5.4,'R'),(5.56,5.4,'R'),(5.6,5.3,'F'),(5.65,5.2,'F'),(5.69,5.1,'F'),(5.73,4.99,'F'),(5.79,4.95,'F'),(5.85,4.92,'F'),(5.92,4.9,'F'),(5.98,4.86,'F'),(6.04,4.9,'F'),(6.1,4.92,'F'),(6.14,5.0,'F'),(6.18,5.13,'F'),(6.21,5.4,'R'),(6.25,5.88,'R'),(6.28,5.5,'F'),(6.31,4.99,'F'),(6.35,4.6,'F'),(6.39,4.38,'F'),(6.42,5.0,'F'),(6.45,5.4,'F'),(6.5,5.2,'F'),(6.56,5.06,'F'),(6.62,4.99,'F'),(6.68,4.92,'F'),(6.74,4.85,'F'),(6.8,4.79,'F'),(6.85,4.95,'F'),(6.89,4.99,'F'),(6.93,4.75,'F'),(6.97,4.65,'F'),(7.0,5.0,'R'),(7.04,5.4,'R'),(7.06,6.0,'R'),(7.08,6.39,'R'),(7.1,6.0,'F'),(7.11,5.67,'F'),(7.15,5.3,'F'),(7.18,5.2,'F'),(7.22,5.1,'F'),(7.26,5.06,'F'),(7.3,5.15,'F'),(7.34,5.2,'F'),(7.4,5.0,'F'),(7.47,4.79,'F'),(7.53,4.7,'F'),(7.59,4.65,'F'),(7.65,4.7,'F'),(7.72,4.72,'F'),(7.78,4.6,'F'),(7.84,4.52,'F'),(7.9,4.48,'F'),(7.96,4.45,'F'),(8.0,4.3,'F'),(8.05,4.17,'F'),(8.09,4.35,'F'),(8.13,4.52,'F'),(8.17,4.7,'F'),(8.21,4.79,'F'),(8.27,4.85,'F'),(8.34,4.72,'F'),(8.4,4.8,'F'),(8.46,4.79,'F'),(8.52,4.72,'F'),(8.58,4.72,'F'),(8.62,4.65,'F'),(8.67,4.58,'R'),(8.73,4.99,'R'),(8.79,4.14,'R'),(8.83,5.74,'R'),(8.87,5.6,'R'),(8.9,6.22,'R'),(8.93,5.8,'R'),(8.96,5.4,'R'),(8.99,5.7,'R'),(9.01,6.42,'R'),(9.04,6.0,'R'),(9.06,5.94,'R'),(9.09,5.5,'R'),(9.12,5.33,'F'),(9.14,5.0,'F'),(9.16,4.72,'R'),(9.19,5.5,'F'),(9.21,5.94,'F'),(9.25,5.6,'F'),(9.29,5.4,'F'),(9.33,5.1,'F'),(9.37,5.06,'F'),(9.41,5.3,'F'),(9.45,5.54,'F'),(9.5,5.0,'F'),(9.54,4.72,'F'),(9.58,4.9,'F'),(9.62,4.92,'F'),(9.66,4.7,'F'),(9.7,4.65,'F'),(9.76,4.75,'F'),(9.83,4.79,'F'),(9.91,4.7,'F'),(9.99,4.72,'F'),(10.08,4.65,'F'),(10.16,4.58,'F'),(10.22,4.65,'F'),(10.28,4.72,'F'),(10.32,4.7,'R'),(10.36,4.65,'R'),(10.4,4.85,'R'),(10.44,4.99,'R'),(10.48,5.1,'F'),(10.53,5.26,'F'),(10.56,4.9,'R'),(10.6,4.72,'R'),(10.62,5.2,'R'),(10.65,5.64,'R'),(10.68,5.3,'F'),(10.72,5.2,'F'),(10.78,4.85,'F'),(10.82,4.72,'F'),(10.88,4.8,'F'),(10.94,4.79,'F'),(11.0,4.7,'F'),(11.07,4.72,'F'),(11.13,4.8,'F'),(11.19,4.86,'F'),(11.25,4.7,'F'),(11.32,4.65,'F'),(11.38,4.75,'F'),(11.44,4.79,'F'),(11.5,4.72,'F'),(11.56,4.72,'F'),(11.6,4.8,'R'),(11.65,4.86,'R'),(11.71,4.99,'R'),(11.75,4.72,'F'),(11.8,4.7,'F')]

B5 = [(-0.23,2.47,'F'),(-0.19,2.3,'F'),(-0.15,2.41,'F'),(-0.07,2.5,'F'),(-0.02,2.47,'F'),(0.06,2.38,'F'),(0.14,2.44,'F'),(0.22,2.35,'F'),(0.31,2.47,'F'),(0.39,2.4,'F'),(0.47,2.41,'F'),(0.55,2.5,'F'),(0.64,2.51,'F'),(0.72,2.45,'F'),(0.8,2.44,'F'),(0.89,2.5,'F'),(0.97,2.54,'F'),(1.05,2.45,'F'),(1.13,2.47,'F'),(1.22,2.5,'F'),(1.3,2.37,'F'),(1.34,2.25,'F'),(1.36,2.68,'F'),(1.42,2.54,'F'),(1.5,2.55,'F'),(1.55,2.51,'F'),(1.63,2.45,'F'),(1.71,2.47,'F'),(1.8,2.5,'F'),(1.88,2.41,'F'),(1.96,2.5,'F'),(2.04,2.58,'F'),(2.13,2.54,'F'),(2.21,2.5,'F'),(2.29,2.61,'F'),(2.38,2.55,'F'),(2.46,2.54,'F'),(2.54,2.5,'F'),(2.62,2.54,'F'),(2.71,2.5,'F'),(2.79,2.51,'F'),(2.87,2.47,'F'),(2.93,2.47,'F'),(2.97,2.44,'F'),(3.02,2.5,'R'),(3.05,2.54,'R'),(3.12,2.95,'R'),(3.19,3.43,'R'),(3.22,3.3,'F'),(3.25,3.22,'F'),(3.29,3.4,'F'),(3.33,3.56,'F'),(3.36,3.3,'F'),(3.39,3.22,'F'),(3.42,3.5,'R'),(3.45,3.94,'R'),(3.49,3.56,'F'),(3.52,3.56,'F'),(3.55,3.2,'F'),(3.58,2.95,'F'),(3.62,3.1,'F'),(3.66,3.22,'F'),(3.7,3.1,'F'),(3.74,3.09,'F'),(3.78,3.3,'F'),(3.82,3.43,'F'),(3.86,3.6,'R'),(3.88,3.77,'R'),(3.92,3.22,'R'),(3.96,2.9,'F'),(4.0,2.88,'F'),(4.08,2.95,'F'),(4.16,2.81,'F'),(4.24,2.81,'F'),(4.28,2.54,'F'),(4.32,2.8,'F'),(4.36,3.29,'R'),(4.4,3.0,'R'),(4.43,2.95,'F'),(4.48,2.8,'F'),(4.53,2.68,'F'),(4.6,2.75,'F'),(4.65,2.68,'F'),(4.69,2.61,'F'),(4.74,2.9,'R'),(4.78,3.22,'R'),(4.81,3.77,'R'),(4.83,3.4,'R'),(4.88,2.54,'F'),(4.92,2.9,'F'),(4.96,3.02,'F'),(5.0,2.9,'F'),(5.04,2.88,'F'),(5.08,2.9,'F'),(5.12,2.81,'F'),(5.18,2.75,'F'),(5.23,2.75,'F'),(5.29,2.95,'F'),(5.33,2.8,'F'),(5.37,2.61,'R'),(5.41,2.65,'R'),(5.44,2.68,'F'),(5.48,2.5,'F'),(5.52,2.41,'R'),(5.56,2.6,'R'),(5.6,2.81,'F'),(5.67,2.9,'F'),(5.73,2.95,'F'),(5.79,2.85,'F'),(5.84,2.81,'F'),(5.88,2.7,'F'),(5.92,2.54,'F'),(5.96,2.4,'R'),(6.0,2.2,'R'),(6.04,2.6,'F'),(6.07,3.16,'F'),(6.1,2.95,'F'),(6.15,2.81,'F'),(6.21,2.75,'F'),(6.27,2.75,'F'),(6.33,2.6,'F'),(6.39,2.68,'F'),(6.45,2.75,'F'),(6.51,2.61,'F'),(6.58,2.7,'F'),(6.64,2.81,'F'),(6.7,2.6,'F'),(6.76,2.68,'F'),(6.83,2.5,'F'),(6.89,2.61,'F'),(6.95,2.75,'F'),(7.01,2.81,'F'),(7.07,2.6,'F'),(7.14,2.68,'F'),(7.2,2.55,'F'),(7.26,2.75,'F'),(7.32,2.6,'F'),(7.38,2.68,'F'),(7.45,2.8,'F'),(7.51,2.81,'F'),(7.57,2.6,'F'),(7.63,2.68,'F'),(7.7,2.6,'F'),(7.76,2.68,'F'),(7.82,2.72,'F'),(7.88,2.68,'R'),(7.92,2.75,'R'),(7.96,2.75,'R'),(8.0,2.55,'F'),(8.05,2.61,'F'),(8.11,2.75,'F'),(8.17,2.81,'F'),(8.23,2.65,'F'),(8.29,2.75,'F'),(8.34,2.9,'R'),(8.38,2.95,'R'),(8.42,2.9,'F'),(8.46,2.81,'F'),(8.52,2.75,'F'),(8.58,2.68,'F'),(8.62,2.85,'R'),(8.67,2.95,'R'),(8.71,2.4,'F'),(8.75,2.27,'F'),(8.81,2.5,'F'),(8.87,2.68,'F'),(8.94,2.6,'F'),(9.0,2.54,'F'),(9.03,2.7,'R'),(9.06,2.81,'R'),(9.09,2.9,'R'),(9.12,2.95,'R'),(9.15,3.5,'R'),(9.17,3.9,'R'),(9.19,4.04,'R'),(9.22,3.7,'F'),(9.25,3.56,'F'),(9.28,3.5,'F'),(9.31,3.43,'F'),(9.34,3.8,'F'),(9.37,3.9,'F'),(9.41,3.5,'F'),(9.45,3.02,'F'),(9.51,3.1,'F'),(9.58,3.09,'F'),(9.64,3.0,'F'),(9.7,3.02,'F'),(9.76,2.9,'F'),(9.83,2.81,'F'),(9.89,2.75,'F'),(9.95,2.68,'F'),(10.01,2.75,'F'),(10.07,2.81,'F'),(10.12,2.5,'F'),(10.16,2.27,'F'),(10.2,2.6,'F'),(10.24,2.68,'F'),(10.3,2.65,'F'),(10.36,2.61,'R'),(10.39,2.75,'R'),(10.42,2.95,'R'),(10.46,2.9,'F'),(10.49,2.88,'F'),(10.53,3.1,'F'),(10.57,3.29,'F'),(10.61,3.15,'F'),(10.65,3.22,'F'),(10.7,3.25,'F'),(10.74,3.29,'F'),(10.78,3.2,'F'),(10.82,3.22,'F'),(10.86,2.61,'R'),(10.88,3.5,'F'),(10.9,4.31,'F'),(10.93,4.2,'F'),(10.97,3.9,'F'),(11.0,3.6,'F'),(11.03,3.43,'F'),(11.07,3.2,'F'),(11.11,3.09,'F'),(11.17,3.0,'F'),(11.24,2.88,'F'),(11.28,2.75,'F'),(11.32,2.68,'F'),(11.36,2.6,'F'),(11.4,2.41,'F'),(11.44,2.55,'F'),(11.48,2.68,'F'),(11.52,2.5,'F'),(11.56,2.41,'F'),(11.6,2.55,'F'),(11.65,2.68,'F'),(11.71,2.75,'R'),(11.75,3.1,'R'),(11.78,3.43,'R')]

B6 = [(-0.23,1.04,'G'),(-0.19,0.95,'G'),(-0.15,0.9,'G'),(-0.1,0.95,'G'),(-0.02,0.94,'G'),(0.06,0.88,'G'),(0.14,0.83,'G'),(0.22,0.9,'G'),(0.31,0.87,'G'),(0.39,0.8,'G'),(0.47,0.85,'G'),(0.55,0.83,'G'),(0.64,0.87,'G'),(0.72,0.85,'G'),(0.76,0.87,'F'),(0.84,0.83,'F'),(0.92,0.9,'F'),(0.97,0.85,'F'),(1.01,0.87,'G'),(1.08,0.82,'G'),(1.13,0.8,'G'),(1.22,0.85,'G'),(1.3,0.83,'G'),(1.38,0.88,'G'),(1.47,0.8,'G'),(1.55,0.82,'G'),(1.63,0.77,'G'),(1.69,0.8,'G'),(1.75,0.83,'G'),(1.8,0.9,'G'),(1.84,0.94,'G'),(1.9,1.0,'F'),(1.96,1.07,'F'),(2.04,1.04,'F'),(2.13,1.0,'F'),(2.21,0.95,'F'),(2.25,0.97,'F'),(2.3,0.92,'F'),(2.38,0.9,'F'),(2.44,0.85,'F'),(2.48,0.87,'F'),(2.54,0.97,'R'),(2.58,1.1,'R'),(2.62,1.17,'G'),(2.67,1.25,'G'),(2.71,1.31,'G'),(2.75,1.4,'R'),(2.79,1.41,'R'),(2.83,1.3,'F'),(2.86,1.21,'F'),(2.92,1.1,'F'),(2.97,1.07,'F'),(3.02,1.11,'F'),(3.05,1.3,'R'),(3.08,1.45,'R'),(3.11,1.4,'R'),(3.14,1.51,'R'),(3.17,1.6,'R'),(3.2,1.79,'R'),(3.23,1.55,'R'),(3.26,1.58,'R'),(3.3,1.24,'F'),(3.33,1.07,'F'),(3.36,0.83,'F'),(3.39,1.3,'F'),(3.42,1.55,'F'),(3.45,1.51,'F'),(3.49,1.58,'F'),(3.53,1.65,'F'),(3.57,1.75,'F'),(3.6,1.89,'F'),(3.64,1.7,'F'),(3.68,1.51,'F'),(3.72,1.7,'F'),(3.77,1.79,'R'),(3.8,1.9,'R'),(3.82,1.99,'R'),(3.85,2.1,'R'),(3.87,2.23,'R'),(3.9,1.9,'F'),(3.93,1.79,'F'),(3.98,1.72,'F'),(4.03,1.65,'F'),(4.08,1.58,'F'),(4.13,1.51,'F'),(4.18,1.45,'F'),(4.24,1.41,'F'),(4.3,1.38,'F'),(4.35,1.31,'R'),(4.4,1.3,'F'),(4.45,1.34,'F'),(4.51,1.25,'F'),(4.57,1.24,'F'),(4.63,1.3,'F'),(4.69,1.21,'F'),(4.75,1.15,'F'),(4.82,1.28,'F'),(4.88,1.2,'F'),(4.94,1.24,'F'),(4.98,1.3,'F'),(5.02,1.38,'F'),(5.06,1.3,'F'),(5.11,1.21,'F'),(5.17,1.3,'F'),(5.23,1.31,'F'),(5.28,1.4,'F'),(5.34,1.51,'F'),(5.39,1.45,'F'),(5.44,1.38,'F'),(5.48,1.45,'F'),(5.52,1.51,'F'),(5.57,1.45,'F'),(5.62,1.48,'F'),(5.66,1.35,'F'),(5.7,1.31,'F'),(5.73,1.4,'R'),(5.75,1.58,'R'),(5.77,1.8,'R'),(5.79,2.06,'R'),(5.82,2.09,'G'),(5.84,1.9,'G'),(5.87,1.45,'F'),(5.9,1.2,'F'),(5.93,1.1,'F'),(5.95,1.04,'F'),(5.98,1.2,'F'),(6.02,1.24,'F'),(6.06,1.35,'F'),(6.1,1.51,'F'),(6.16,1.45,'F'),(6.23,1.41,'F'),(6.27,1.3,'F'),(6.31,1.38,'F'),(6.35,1.3,'F'),(6.39,1.24,'F'),(6.45,1.28,'G'),(6.51,1.21,'G'),(6.57,1.25,'G'),(6.64,1.24,'G'),(6.7,1.2,'G'),(6.76,1.14,'G'),(6.82,1.1,'G'),(6.89,1.07,'G'),(6.95,1.04,'G'),(7.01,1.0,'F'),(7.07,1.04,'F'),(7.14,1.0,'G'),(7.2,1.03,'G'),(7.26,1.04,'G'),(7.34,0.98,'G'),(7.43,1.04,'G'),(7.51,1.0,'G'),(7.59,1.04,'G'),(7.67,0.99,'G'),(7.76,1.0,'G'),(7.84,0.96,'G'),(7.92,0.97,'G'),(8.0,1.01,'G'),(8.09,1.0,'G'),(8.17,1.02,'G'),(8.25,1.0,'G'),(8.34,0.97,'G'),(8.42,0.97,'G'),(8.5,0.98,'G'),(8.58,1.0,'G'),(8.67,0.96,'G'),(8.75,0.94,'G'),(8.81,0.9,'G'),(8.87,0.87,'G'),(8.94,0.85,'F'),(9.0,0.83,'F'),(9.04,0.8,'F'),(9.08,0.77,'R'),(9.12,1.17,'R'),(9.18,1.65,'R'),(9.23,1.99,'R'),(9.26,1.85,'F'),(9.29,1.72,'F'),(9.33,1.7,'F'),(9.37,1.65,'F'),(9.42,1.6,'F'),(9.46,1.58,'F'),(9.5,1.5,'F'),(9.56,1.45,'F'),(9.62,1.45,'F'),(9.68,1.41,'F'),(9.74,1.38,'F'),(9.8,1.41,'F'),(9.87,1.38,'F'),(9.91,1.31,'R'),(9.95,1.38,'R'),(10.03,1.45,'F'),(10.07,1.4,'F'),(10.12,1.31,'F'),(10.16,1.2,'G'),(10.2,1.11,'G'),(10.24,1.15,'R'),(10.28,1.17,'R'),(10.32,1.3,'R'),(10.36,1.45,'R'),(10.42,1.58,'R'),(10.45,1.6,'F'),(10.49,1.65,'F'),(10.55,1.55,'F'),(10.61,1.51,'F'),(10.66,1.55,'F'),(10.7,1.58,'G'),(10.73,1.65,'G'),(10.75,1.72,'G'),(10.8,1.31,'R'),(10.83,1.1,'G'),(10.86,0.97,'G'),(10.9,1.31,'R'),(10.97,1.24,'R'),(11.01,1.2,'F'),(11.05,1.17,'F'),(11.11,1.31,'G'),(11.14,1.4,'R'),(11.18,1.45,'R'),(11.23,1.58,'R'),(11.27,1.45,'F'),(11.32,1.38,'F'),(11.38,1.35,'F'),(11.44,1.31,'F'),(11.5,1.2,'F'),(11.56,1.11,'F'),(11.62,1.2,'F'),(11.69,1.24,'F'),(11.78,1.17,'F')]

SCALE_BAR = [0.0, 1.0]          # 1 ratio
Y_DOMAIN = [0, 13.63]
TITLE = "AVA"
TITLE_X_A = 12.8
TITLE_X_B = 5.98

H = 668
W_A = 447
W_B = 656
LABEL_SIZE = 17
SUB_SIZE = 14
# approximate bold Helvetica advance widths (em) used to centre "O" + subscript "2"
BOLD_EM = {"0": .556, "1": .556, "2": .556, "7": .556, "%": .889, " ": .278, "O": .778}


def split_pieces(trace):
    out, cur = [], []
    for p in trace:
        if p is None:
            if cur:
                out.append(cur)
            cur = []
        else:
            cur.append(p)
    if cur:
        out.append(cur)
    return out


rows_a = []
for i, tr in enumerate([A1, A2, A3, A4, A5, A6]):
    for j, piece in enumerate(split_pieces(tr)):
        for t, v in piece:
            rows_a.append({"t": t, "v": v, "piece": f"{i}-{j}"})
df_a = pd.DataFrame(rows_a)

rows_b = []
for i, tr in enumerate([B1, B2, B3, B4, B5, B6]):
    for piece in split_pieces(tr):
        for p, q in zip(piece[:-1], piece[1:]):
            rows_b.append({"t": p[0], "v": p[1], "t2": q[0], "v2": q[1], "s": STATE_CODES[p[2]]})
df_b = pd.DataFrame(rows_b)

ys = alt.Scale(domain=Y_DOMAIN, nice=False, zero=False)


def make_axis(ticks):
    return alt.Axis(values=ticks, title="Time (min)", grid=False, format="d",
                    domainColor=INK, domainWidth=2.5, tickColor=INK, tickWidth=2, tickSize=8,
                    labelFont=FONT, labelFontSize=17, labelColor=INK, labelPadding=9,
                    labelFlush=False, titleFont=FONT, titleFontSize=26, titleFontWeight="normal",
                    titleColor=INK, titleBaseline="alphabetic", titleY=59)


def label_frames(labels, xdomain, width):
    ppu = width / (xdomain[1] - xdomain[0])
    plain, main, sub = [], [], []
    for txt, x in labels:
        if txt.endswith("₂"):
            body = txt[:-1]
            wb = sum(BOLD_EM.get(c, .6) for c in body) * LABEL_SIZE
            ws = BOLD_EM["2"] * SUB_SIZE
            right = x + (wb - ws) / 2 / ppu
            main.append({"txt": body, "x": right})
            sub.append({"txt": "2", "x": right + 0.5 / ppu})
        else:
            plain.append({"txt": txt, "x": x})
    return pd.DataFrame(plain), pd.DataFrame(main), pd.DataFrame(sub)


def panel(letter, xdomain, width, ticks, bands, labels, title_x, bar_x, ratio_x, traces):
    xs = alt.Scale(domain=xdomain, nice=False, zero=False)
    ax = make_axis(ticks)
    X = lambda f: alt.X(f, scale=xs, axis=ax)
    band = alt.Chart(pd.DataFrame(bands, columns=["x0", "x1"])).mark_rect(
        color=BAND, clip=True).encode(x=X("x0:Q"), x2="x1:Q", y=alt.value(0), y2=alt.value(H))
    d_plain, d_main, d_sub = label_frames(labels, xdomain, width)
    lab_style = dict(font=FONT, fontWeight="bold", color=INK, baseline="alphabetic")
    layers = [band]
    if len(d_plain):
        layers.append(alt.Chart(d_plain).mark_text(fontSize=LABEL_SIZE, **lab_style).encode(
            x=X("x:Q"), y=alt.value(25), text="txt:N"))
    if len(d_main):
        layers.append(alt.Chart(d_main).mark_text(fontSize=LABEL_SIZE, align="right",
                                                  **lab_style).encode(
            x=X("x:Q"), y=alt.value(25), text="txt:N"))
        layers.append(alt.Chart(d_sub).mark_text(fontSize=SUB_SIZE, align="left",
                                                 **lab_style).encode(
            x=X("x:Q"), y=alt.value(28.5), text="txt:N"))
    ttl = alt.Chart(pd.DataFrame({"x": [title_x], "txt": [TITLE]})).mark_text(
        font=FONT, fontSize=33, color=INK, baseline="alphabetic").encode(
        x=X("x:Q"), y=alt.value(-18), text="txt:N")
    let = alt.Chart(pd.DataFrame({"txt": [letter]})).mark_text(
        font=FONT, fontSize=32, fontWeight="bold", color=INK, align="left",
        baseline="alphabetic").encode(x=alt.value(-37), y=alt.value(-26), text="txt:N")
    bar = alt.Chart(pd.DataFrame({"y0": [SCALE_BAR[0]], "y1": [SCALE_BAR[1]]})).mark_rule(
        color="black", strokeWidth=9.5, strokeCap="butt").encode(
        x=alt.value(bar_x), y=alt.Y("y0:Q", scale=ys, axis=None), y2="y1:Q")
    rat = alt.Chart(pd.DataFrame({"y": [0.45], "txt": ["1 ratio"]})).mark_text(
        font=FONT, fontSize=18, color=INK, angle=270, baseline="middle").encode(
        x=alt.value(ratio_x), y=alt.Y("y:Q", scale=ys, axis=None), text="txt:N")
    layers += [traces(X), bar, rat, ttl, let]
    return alt.layer(*layers).properties(width=width, height=H)


def traces_a(X):
    return alt.Chart(df_a).mark_line(color=INK, strokeWidth=1.5, clip=True).encode(
        x=X("t:Q"), y=alt.Y("v:Q", scale=ys, axis=None), detail="piece:N")


def traces_b(X):
    return alt.Chart(df_b).mark_rule(strokeWidth=1.45, strokeCap="round", clip=True).encode(
        x=X("t:Q"), x2="t2:Q",
        y=alt.Y("v:Q", scale=ys, axis=None), y2="v2:Q",
        color=alt.Color("s:N", scale=alt.Scale(domain=STATES, range=STATE_COLORS),
                        legend=alt.Legend(title=None, orient="none", legendX=535, legendY=27,
                                          symbolType="stroke", symbolStrokeWidth=4,
                                          symbolSize=400, labelFont=FONT, labelFontSize=17,
                                          labelColor=INK, rowPadding=1, padding=0,
                                          labelOffset=3)))


pa = panel("a", A_DOMAIN, W_A, A_TICKS, A_BANDS, A_LABELS, TITLE_X_A, -33.5, -15, traces_a)
pb = panel("b", B_DOMAIN, W_B, B_TICKS, B_BANDS, B_LABELS, TITLE_X_B, -36, -17, traces_b)

chart = alt.hconcat(pa, pb, spacing=30).properties(
    padding={"top": 4, "left": 0, "right": 0, "bottom": 0}).configure_view(strokeWidth=0)

chart.save("out.html", embed_options={"renderer": "svg", "actions": False})
